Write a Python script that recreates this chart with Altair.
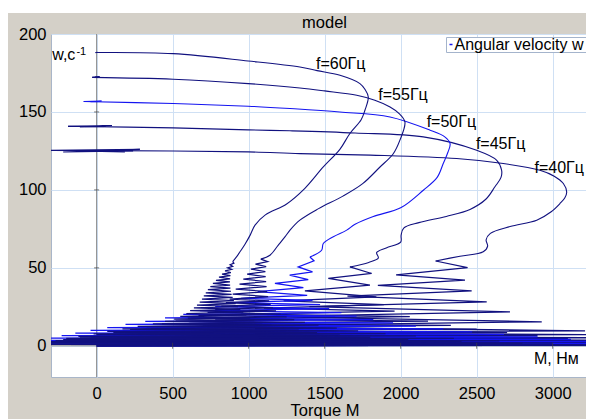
import altair as alt
import pandas as pd

# ---------------- data ----------------
# Torque M (Nm) / angular velocity w (1/s), time order.
# Each curve: start-up zigzag (ZIG), upper smooth branch (UP), steady-state ripple (SS).

# f = 40 Hz
ZIG40_M = [0, 3750, -450, 3650, -300, 3550, -100, 3450, 100, 3350, 300, 3213,
           700, 2928, 1100, 2719, 1400, 2566, 1650, 2467, 1850, 2423, 1970, 2440, 2230]
ZIG40_W = [0, 0.5, 1.2, 2.0, 2.8, 3.6, 4.4, 5.2, 6.2, 7.2, 8.4, 9.6,
           12.6, 15.4, 18.8, 21.8, 25.2, 28.2, 31.8, 35.3, 38.8, 42.1, 45.5, 50.2, 54.4]
UP40_M = [2230, 2390, 2543, 2572, 2562, 2590, 2720, 2895, 2990, 3048, 3080, 3092,
          3070, 3010, 2916, 2675, 2368, 1800, 1337, 997, 504, -450]
UP40_W = [54.4, 57.5, 60.3, 64.0, 68.0, 72.1, 76.5, 80.6, 86.0, 91.3, 95.0, 98.7,
          104.1, 108.8, 112.6, 116.9, 120.1, 122.3, 123.3, 124.4, 125.0, 125.3]
SS40_M = [-450, 285, -220, 240, -122, 186, -40, 100, 0]
SS40_W = [125.3, 126.0, 124.3, 125.0, 125.1, 124.3, 125.0, 125.2, 125.0]

# f = 45 Hz
ZIG45_M = [0, 3650, -400, 3500, -300, 3300, -180, 3100, -40, 2900, 110, 2700,
           270, 2500, 440, 2330, 610, 2180, 780, 2060, 950, 1960, 1100, 1890,
           1230, 1840, 1370, 1798, 1524, 1809, 1666]
ZIG45_W = [0, 0.5, 1.1, 1.7, 2.4, 3.1, 3.9, 4.7, 5.6, 6.5, 7.5, 8.5,
           9.6, 10.7, 11.9, 13.1, 14.4, 15.8, 17.2, 18.8, 20.4, 22.2, 24.2, 26.4,
           28.8, 31.4, 35.3, 38.9, 43.2, 46.4, 50.6]
UP45_M = [1666, 1790, 1853, 1842, 1905, 2000, 2003, 2020, 2120, 2300, 2456, 2560,
          2620, 2660, 2664, 2632, 2500, 2149, 1700, 1272, 997, 504, -188]
UP45_W = [50.6, 53.5, 56.3, 59.8, 62.8, 66.5, 71.0, 75.5, 79.0, 83.0, 87.5, 94.0,
          102.0, 108.0, 112.6, 119.0, 125.4, 134.0, 136.5, 137.9, 138.5, 139.8, 140.8]
SS45_M = [-188, 99, -110, 60, -40, 20, 0]
SS45_W = [140.8, 141.2, 140.4, 140.8, 140.9, 141.0, 141.0]

# f = 50 Hz
ZIG50_M = [0, 3700, -480, 3550, -440, 3350, -380, 3120, -310, 2900, -230, 2680,
           -140, 2470, -40, 2280, 70, 2100, 190, 1950, 320, 1820, 450, 1710,
           570, 1610, 680, 1530, 780, 1470, 870, 1420, 950, 1385, 1060, 1360,
           1173, 1392, 1270, 1420, 1326, 1430, 1403]
ZIG50_W = [0, 0.4, 0.9, 1.5, 2.1, 2.8, 3.5, 4.2, 4.9, 5.7, 6.5, 7.3,
           8.1, 9.0, 9.9, 10.8, 11.7, 12.7, 13.7, 14.7, 15.7, 16.8, 17.9, 19.0,
           20.1, 21.3, 22.5, 23.8, 25.1, 26.4, 27.7, 29.1, 30.5, 32.3, 34.8, 37.4,
           40.0, 42.5, 45.3, 47.4, 50.6, 54.5, 57.0]
UP50_M = [1403, 1480, 1491, 1557, 1645, 1700, 1820, 2000, 2149, 2240, 2280, 2310,
          2325, 2290, 2193, 1930, 1600, 1272, 997, 504, -85]
UP50_W = [57.0, 61.3, 65.6, 70.0, 74.2, 78.0, 83.0, 88.5, 99.8, 108.0, 116.9, 124.0,
          129.7, 134.0, 138.3, 146.8, 150.0, 152.2, 153.7, 155.4, 156.7]
SS50_M = [-85, 33, -40, 15, 0]
SS50_W = [156.7, 156.9, 156.6, 156.8, 156.8]

# f = 55 Hz
ZIG55_M = [0, 3400, -450, 3000, -330, 2650, -220, 2350, -110, 2100, 0, 1900,
           110, 1720, 220, 1580, 330, 1460, 430, 1370, 520, 1300, 600, 1250,
           670, 1210, 730, 1180, 780, 1160, 820, 1145, 850, 1135, 875, 1128,
           895, 1122, 915, 1118, 940, 1115, 965, 1112, 990, 1110, 1015, 1115,
           1045, 1125, 1080]
ZIG55_W = [0, 0.5, 1.1, 1.8, 2.5, 3.2, 3.9, 4.7, 5.5, 6.3, 7.1, 7.9,
           8.7, 9.6, 10.5, 11.4, 12.3, 13.2, 14.1, 15.0, 15.9, 16.8, 17.7, 18.6,
           19.5, 20.4, 21.4, 22.4, 23.4, 24.4, 25.5, 26.6, 27.7, 28.8, 30.0, 31.6,
           33.2, 34.8, 36.4, 38.0, 39.6, 41.2, 42.8, 44.4, 46.0, 47.6, 49.2, 50.8,
           52.4, 54.0, 55.6]
UP55_M = [1080, 1140, 1195, 1240, 1272, 1337, 1460, 1620, 1750, 1864, 1950, 1995,
          2028, 1990, 1930, 1830, 1711, 1500, 1337, 997, 504, -29]
UP55_W = [55.6, 58.1, 64.6, 70.0, 74.2, 80.6, 88.0, 96.0, 104.0, 114.7, 123.0, 131.9,
          143.6, 149.0, 153.2, 157.5, 160.7, 163.5, 165.4, 168.2, 171.0, 172.2]
SS55_M = [-29, 20, -10, 0]
SS55_W = [172.2, 172.6, 172.5, 172.6]

# f = 60 Hz
ZIG60_M = [0, 3300, -450, 2800, -330, 2400, -270, 2050, -200, 1800, -120, 1600,
           -20, 1450, 70, 1330, 170, 1230, 270, 1150, 370, 1090, 450, 1040,
           510, 1010, 550, 985, 590, 965, 615, 945, 640, 930, 660, 915,
           678, 903, 693, 895, 705, 888, 718, 884, 732, 880, 748, 878,
           765, 877, 785, 878, 805, 880, 825, 883, 845, 888, 862, 895,
           878, 903, 895]
ZIG60_W = [0, 0.5, 1.0, 1.6, 2.2, 2.8, 3.4, 4.0, 4.7, 5.4, 6.1, 6.8,
           7.6, 8.4, 9.2, 10.0, 10.8, 11.6, 12.4, 13.2, 14.0, 14.8, 15.6, 16.4,
           17.2, 18.0, 18.9, 19.8, 20.7, 21.6, 22.5, 23.4, 24.3, 25.2, 26.1, 27.0,
           28.0, 29.0, 30.0, 31.0, 32.0, 33.0, 34.0, 35.0, 36.0, 37.0, 38.0, 39.0,
           40.0, 41.0, 42.0, 43.0, 44.0, 45.0, 46.0, 47.0, 48.0, 49.0, 50.0, 51.0,
           52.0, 53.0, 54.0]
UP60_M = [895, 920, 943, 975, 1010, 1042, 1110, 1250, 1370, 1491, 1600, 1666,
          1740, 1765, 1787, 1765, 1732, 1601, 1450, 1337, 997, 504, -7]
UP60_W = [54.0, 57.0, 60.3, 65.0, 71.0, 77.4, 84.0, 91.0, 101.0, 114.7, 126.0, 136.2,
          145.0, 151.1, 159.6, 164.5, 168.2, 173.5, 176.5, 178.8, 182.7, 187.4, 188.1]
SS60_M = [-7, 5, 0]
SS60_W = [188.1, 188.3, 188.3]

CURVES = ["f=40", "f=45", "f=50", "f=55", "f=60"]
CURVE_COLORS = ["#11117f", "#11117f", "#1515f0", "#11117f", "#11117f"]

X_TICKS = [0, 500, 1000, 1500, 2000, 2500, 3000]
Y_TICKS = [0, 50, 100, 150, 200]
X_DOMAIN = [-300, 3219]
Y_DOMAIN = [-20, 200]

# curve labels and axis captions, anchored in data coordinates
ANN_TEXT = ["f=60Гц", "f=55Гц", "f=50Гц", "f=45Гц", "f=40Гц", "w,c", "M, Нм"]
ANN_M = [1443, 1853, 2171, 2495, 2880, -292, 2877]
ANN_W = [177.4, 157.5, 140.4, 126.1, 110.9, 183.1, -11.7]
SUP_TEXT = ["-1"]
SUP_M = [-133]
SUP_W = [186.6]

# ---------------- build tables ----------------
parts = {
    "f=40": [("zig", ZIG40_M, ZIG40_W), ("up", UP40_M, UP40_W), ("ss", SS40_M, SS40_W)],
    "f=45": [("zig", ZIG45_M, ZIG45_W), ("up", UP45_M, UP45_W), ("ss", SS45_M, SS45_W)],
    "f=50": [("zig", ZIG50_M, ZIG50_W), ("up", UP50_M, UP50_W), ("ss", SS50_M, SS50_W)],
    "f=55": [("zig", ZIG55_M, ZIG55_W), ("up", UP55_M, UP55_W), ("ss", SS55_M, SS55_W)],
    "f=60": [("zig", ZIG60_M, ZIG60_W), ("up", UP60_M, UP60_W), ("ss", SS60_M, SS60_W)],
}
rows = []
for name in CURVES:
    for part, ms, ws in parts[name]:
        for i, (m, w) in enumerate(zip(ms, ws)):
            rows.append({"curve": name, "part": part, "key": name + part, "i": i, "M": m, "w": w})
df = pd.DataFrame(rows)
df_zig = df[df["part"] == "zig"]
df_ss = df[df["part"] == "ss"]
df_up = df[df["part"] == "up"]

FONT = "Liberation Sans"
xs = alt.Scale(domain=X_DOMAIN, nice=False, zero=False)
ys = alt.Scale(domain=Y_DOMAIN, nice=False, zero=False)

xaxis = alt.Axis(values=X_TICKS, title=None, grid=True, ticks=False, tickSize=0,
                 domain=False, labelPadding=8.5, labelFlush=False, format="d")
yaxis = alt.Axis(values=Y_TICKS, title=None, grid=True, ticks=False, tickSize=0,
                 domain=False, labelPadding=5, labelFlush=False, format="d")

one = pd.DataFrame({"a": [0]})

strip = alt.Chart(one).mark_rect(color="white").encode(
    x=alt.value(-43), x2=alt.value(535), y=alt.value(-26), y2=alt.value(-21))

zero_v = alt.Chart(pd.DataFrame({"M": [0]})).mark_rule(color="#8a8a8a", strokeWidth=1).encode(
    x=alt.X("M:Q", scale=xs, axis=xaxis))
zero_h = alt.Chart(pd.DataFrame({"w": [0]})).mark_rule(color="#8a8a8a", strokeWidth=1).encode(
    y=alt.Y("w:Q", scale=ys, axis=yaxis))

ytk = alt.Chart(pd.DataFrame({"M": [0] * 3, "w": Y_TICKS[1:4]})).mark_tick(
    orient="horizontal", size=5, thickness=1, color="#404040").encode(
    x=alt.X("M:Q", scale=xs), y=alt.Y("w:Q", scale=ys))
xtk = alt.Chart(pd.DataFrame({"M": X_TICKS[1:], "w": [0] * 6})).mark_tick(
    orient="vertical", size=6, thickness=1, color="#404040").encode(
    x=alt.X("M:Q", scale=xs), y=alt.Y("w:Q", scale=ys))

color_enc = alt.Color("curve:N", scale=alt.Scale(domain=CURVES, range=CURVE_COLORS), legend=None)

lines_zig = alt.Chart(df_zig).mark_line(strokeWidth=1.25, clip=True).encode(
    x=alt.X("M:Q", scale=xs, axis=xaxis),
    y=alt.Y("w:Q", scale=ys, axis=yaxis),
    color=color_enc, detail="key:N", order="i:Q")
lines_ss = alt.Chart(df_ss).mark_line(strokeWidth=1.2, clip=True).encode(
    x=alt.X("M:Q", scale=xs), y=alt.Y("w:Q", scale=ys),
    color=color_enc, detail="key:N", order="i:Q")
lines_up = alt.Chart(df_up).mark_line(strokeWidth=1.1, clip=True, interpolate="catmull-rom").encode(
    x=alt.X("M:Q", scale=xs), y=alt.Y("w:Q", scale=ys),
    color=color_enc, detail="key:N", order="i:Q")

ann = alt.Chart(pd.DataFrame({"t": ANN_TEXT, "M": ANN_M, "w": ANN_W})).mark_text(
    font=FONT, fontSize=16, color="black", align="left", baseline="alphabetic").encode(
    x=alt.X("M:Q", scale=xs), y=alt.Y("w:Q", scale=ys), text="t:N")
sup = alt.Chart(pd.DataFrame({"t": SUP_TEXT, "M": SUP_M, "w": SUP_W})).mark_text(
    font=FONT, fontSize=11, color="black", align="left", baseline="alphabetic").encode(
    x=alt.X("M:Q", scale=xs), y=alt.Y("w:Q", scale=ys), text="t:N")

leg_box = alt.Chart(one).mark_rect(fill="white", stroke="#a4b4cc", strokeWidth=1).encode(
    x=alt.value(395.5), x2=alt.value(540), y=alt.value(3.5), y2=alt.value(18.5))
leg_dash = alt.Chart(one).mark_rule(color="#1515f0", strokeWidth=1.5).encode(
    x=alt.value(398.5), x2=alt.value(401.5), y=alt.value(10.5))
leg_text = alt.Chart(one).mark_text(font=FONT, fontSize=16, align="left",
                                    baseline="alphabetic", color="black").encode(
    x=alt.value(403.5), y=alt.value(16), text=alt.value("Angular velocity w"))

title = alt.Chart(one).mark_text(font=FONT, fontSize=16.5, align="center",
                                 baseline="alphabetic", color="black").encode(
    x=alt.value(273.5), y=alt.value(-6), text=alt.value("model"))
xtitle = alt.Chart(one).mark_text(font=FONT, fontSize=16.5, align="center",
                                  baseline="alphabetic", color="black").encode(
    x=alt.value(274), y=alt.value(382), text=alt.value("Torque M"))

chart = alt.layer(
    strip, zero_v, zero_h, lines_zig, lines_ss, lines_up, ytk, xtk, ann, sup,
    leg_box, leg_dash, leg_text, title, xtitle
).properties(
    width=535, height=343,
    autosize=alt.AutoSizeParams(type="none"),
    padding={"left": 43, "top": 26, "right": 0, "bottom": 42},
    background="#d4d0c8",
).configure_view(
    fill="white", stroke="#a9b6c9", strokeWidth=1
).configure_axis(
    labelFont=FONT, labelFontSize=16.5, labelColor="black",
    gridColor="#cfe0f4", gridWidth=1,
)

chart.save("out.html", embed_options={"renderer": "svg", "actions": False})
